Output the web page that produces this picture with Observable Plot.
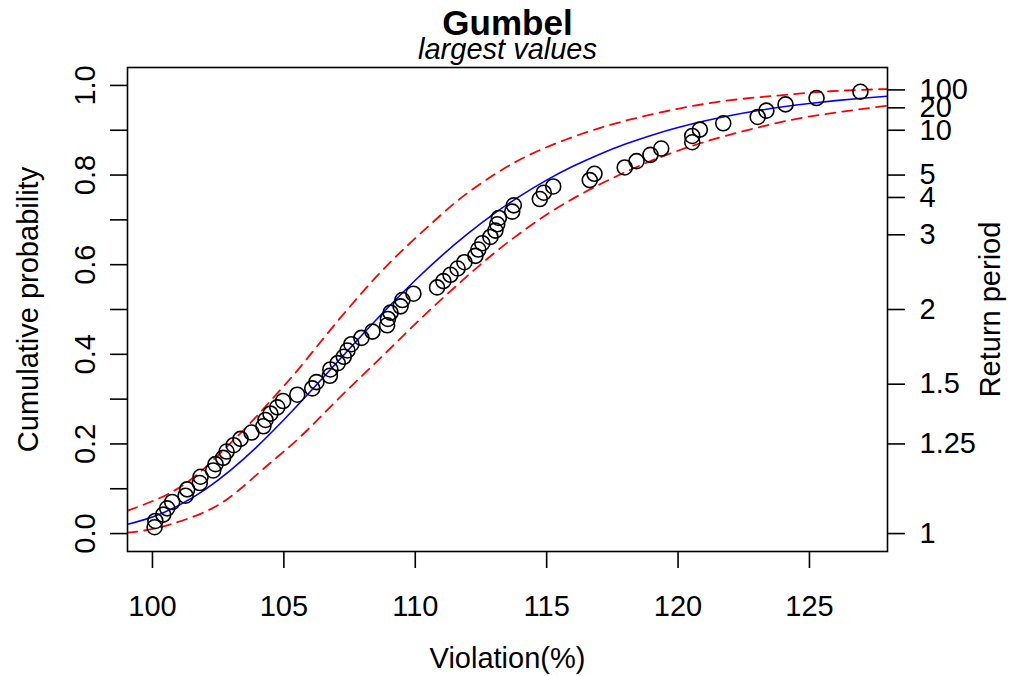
<!DOCTYPE html>
<html><head><meta charset="utf-8">
<script src="https://cdn.jsdelivr.net/npm/d3@7"></script>
<script src="https://cdn.jsdelivr.net/npm/@observablehq/plot@0.6"></script>
<style>html,body{margin:0;padding:0;background:#fff;}</style>
</head><body><div id="chart"></div>
<script>
// ---- data ----
const violation = [100.08,100.11,100.41,100.56,100.75,101.26,101.32,101.80,101.83,102.31,
  102.40,102.69,102.82,103.09,103.35,103.77,104.22,104.30,104.49,104.75,
  104.97,105.51,106.08,106.24,106.75,106.77,107.05,107.28,107.42,107.57,
  107.95,108.37,108.93,108.96,109.06,109.44,109.51,109.93,110.83,111.07,
  111.34,111.61,111.87,112.29,112.40,112.55,112.86,113.05,113.12,113.18,
  113.69,113.75,114.74,114.89,115.25,116.64,116.82,117.97,118.42,118.95,
  119.36,120.54,120.54,120.83,121.72,123.03,123.36,124.09,125.27,126.94];
const cumProb = [0.0141,0.0282,0.0423,0.0563,0.0704,0.0845,0.0986,0.1127,0.1268,0.1408,
  0.1549,0.1690,0.1831,0.1972,0.2113,0.2254,0.2394,0.2535,0.2676,0.2817,
  0.2958,0.3099,0.3239,0.3380,0.3521,0.3662,0.3803,0.3944,0.4085,0.4225,
  0.4366,0.4507,0.4648,0.4789,0.4930,0.5070,0.5211,0.5352,0.5493,0.5634,
  0.5775,0.5915,0.6056,0.6197,0.6338,0.6479,0.6620,0.6761,0.6901,0.7042,
  0.7183,0.7324,0.7465,0.7606,0.7746,0.7887,0.8028,0.8169,0.8310,0.8451,
  0.8592,0.8732,0.8873,0.9014,0.9155,0.9296,0.9437,0.9577,0.9718,0.9859];
const fitX = [99,100,101,102,103,104,105,106,107,108,109,110,111,112,113,114,115,116,117,118,119,120,121,122,123,124,125,126,127,128];
const fitF = [0.0197,0.0370,0.0629,0.0982,0.1426,0.1951,0.2539,0.3164,0.3808,0.4448,
  0.5067,0.5653,0.6197,0.6692,0.7139,0.7537,0.7888,0.8195,0.8461,0.8692,
  0.8890,0.9060,0.9205,0.9329,0.9434,0.9523,0.9598,0.9661,0.9715,0.9760];
const upperX = [99.05,100.30,101.45,102.59,103.73,104.87,105.63,106.89,108.30,109.44,110.58,111.72,112.98,114.38,116.29,118.19,120.09,122.00,123.90,125.80,127.97];
const upperF = [0.051,0.080,0.120,0.180,0.247,0.321,0.372,0.463,0.559,0.628,0.690,0.748,0.800,0.846,0.891,0.924,0.949,0.967,0.978,0.987,0.992];
const lowerX = [99.05,100.30,102.09,103.35,104.49,105.63,107.15,108.68,110.20,111.72,113.24,115.14,117.05,118.95,120.85,122.76,124.66,126.56,127.97];
const lowerF = [0.002,0.0145,0.051,0.100,0.158,0.216,0.305,0.392,0.479,0.561,0.637,0.717,0.780,0.831,0.871,0.902,0.927,0.944,0.955];
const xTicks = [100,105,110,115,120,125];
const yTicks = [0,0.1,0.2,0.3,0.4,0.5,0.6,0.7,0.8,0.9,1.0];
const yLabelValues = [0,0.2,0.4,0.6,0.8,1.0];
const yTickLabels = ["0.0","0.2","0.4","0.6","0.8","1.0"];
const returnPeriods = [1,1.25,1.5,2,3,4,5,10,20,100];
const returnLabels = ["1","1.25","1.5","2","3","4","5","10","20","100"];
const title = "Gumbel";
const subtitle = "largest values";
const xLabel = "Violation(%)";
const yLabel = "Cumulative probability";
const y2Label = "Return period";

// ---- build tables ----
const points = violation.map((v, i) => ({x: v, y: cumProb[i]}));
const fit = fitX.map((v, i) => ({x: v, y: fitF[i]}));
const upper = upperX.map((v, i) => ({x: v, y: upperF[i]}));
const lower = lowerX.map((v, i) => ({x: v, y: lowerF[i]}));
const rpProb = returnPeriods.map(T => 1 - 1 / T);

const FONT = "'Liberation Sans', Arial, Helvetica, sans-serif";
const FS = 29;
const chart = Plot.plot({
  width: 1011, height: 676,
  marginTop: 67, marginBottom: 125, marginLeft: 127, marginRight: 124,
  style: {fontFamily: FONT, fontSize: FS + "px", background: "#fff", color: "#000", overflow: "visible"},
  x: {domain: [99.05, 127.97]},
  y: {domain: [-0.04, 1.04]},
  marks: [
    Plot.axisX(xTicks, {anchor: "bottom", tickSize: 17, tickPadding: 27, fontSize: FS, strokeWidth: 1.6, label: null, tickFormat: d => String(d)}),
    Plot.axisY(yTicks, {anchor: "left", tickSize: 17, strokeWidth: 1.6, label: null, tickFormat: () => ""}),
    Plot.text(yLabelValues, {y: d => d, text: (d, i) => yTickLabels[i], frameAnchor: "left", dx: -33, rotate: -90, lineAnchor: "bottom", textAnchor: "middle", fontSize: FS}),
    Plot.axisY(rpProb, {anchor: "right", tickSize: 17, strokeWidth: 1.6, label: null, tickFormat: () => ""}),
    Plot.text(rpProb, {y: d => d, text: (d, i) => returnLabels[i], frameAnchor: "right", dx: 32, textAnchor: "start", lineAnchor: "middle", fontSize: FS}),
    Plot.line(upper, {x: "x", y: "y", stroke: "#ff0000", strokeWidth: 1.8, strokeDasharray: "10,7", curve: "natural", clip: true}),
    Plot.line(lower, {x: "x", y: "y", stroke: "#ff0000", strokeWidth: 1.8, strokeDasharray: "10,7", curve: "natural", clip: true}),
    Plot.line(fit, {x: "x", y: "y", stroke: "#0000ff", strokeWidth: 1.6, curve: "natural", clip: true}),
    Plot.dot(points, {x: "x", y: "y", r: 7.5, stroke: "#000", fill: "none", strokeWidth: 1.6}),
    Plot.frame({stroke: "#000", strokeWidth: 1.6}),
    Plot.text([title], {frameAnchor: "top", dy: -33, lineAnchor: "bottom", fontWeight: "bold", fontSize: 35}),
    Plot.text([subtitle], {frameAnchor: "top", dy: -9, lineAnchor: "bottom", fontStyle: "italic", fontSize: FS}),
    Plot.text([xLabel], {frameAnchor: "bottom", dy: 116, lineAnchor: "bottom", fontSize: FS}),
    Plot.text([yLabel], {frameAnchor: "left", dx: -90, rotate: -90, lineAnchor: "bottom", textAnchor: "middle", fontSize: FS}),
    Plot.text([y2Label], {frameAnchor: "right", dx: 112, rotate: -90, lineAnchor: "bottom", textAnchor: "middle", fontSize: FS})
  ]
});
document.getElementById("chart").appendChild(chart);
</script>
</body></html>
